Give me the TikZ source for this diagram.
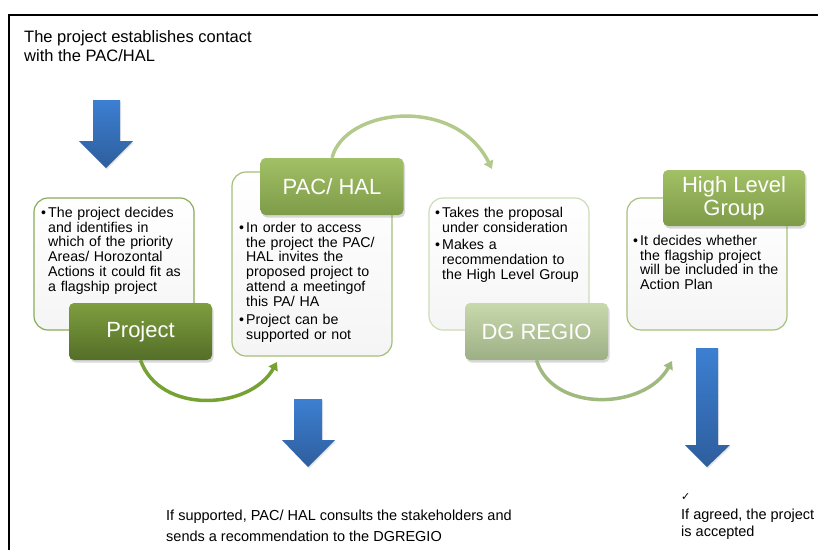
\documentclass[tikz,border=0pt]{standalone}
\usepackage{fontspec}
\setmainfont{Liberation Sans}
\newfontfamily\symfont{DejaVu Sans}
\usetikzlibrary{arrows.meta,shadows}
\definecolor{projA}{HTML}{7E9E3E}
\definecolor{projB}{HTML}{546E28}
\definecolor{pacA}{HTML}{A2C065}
\definecolor{pacB}{HTML}{7E9B48}
\definecolor{dgA}{HTML}{C8D9AC}
\definecolor{dgB}{HTML}{9DAF85}
\definecolor{hlgA}{HTML}{A2C065}
\definecolor{hlgB}{HTML}{7E9B48}
\definecolor{bdProj}{HTML}{89AC5A}
\definecolor{bdPac}{HTML}{A3C079}
\definecolor{bdDg}{HTML}{CDDCB6}
\definecolor{bdHlg}{HTML}{A6C27C}
\definecolor{arcA}{HTML}{B4CA8C}
\definecolor{arcB}{HTML}{76A234}
\definecolor{arcC}{HTML}{A0B97F}
\definecolor{blueA}{HTML}{3C7FD1}
\definecolor{blueB}{HTML}{2E5E9D}
\newcommand{\bitem}[1]{\par\noindent\hangindent=7pt\hangafter=1\hbox to 7pt{\textbullet\hfil}#1\par}
\begin{document}
\begin{tikzpicture}[x=1pt,y=-1pt,
  txtbox/.style={draw, line width=1.2pt, rounded corners=14pt, top color=white, bottom color=black!4, minimum width=160pt, minimum height=132pt, inner sep=0pt},
  lbl/.style={rounded corners=5pt, minimum width=143pt, minimum height=57pt, text=white, font=\fontsize{22}{23}\selectfont, align=center, drop shadow={opacity=0.3, shadow xshift=1.5pt, shadow yshift=-2.5pt}},
  btxt/.style={anchor=north west, inner sep=0pt, text width=160pt, font=\fontsize{14.2}{14.9}\selectfont},
  plain/.style={anchor=north west, inner sep=0pt, align=left},
  arcline/.style={line width=3.5pt, -{Triangle[length=8pt,width=10pt]}},
  bluearrow/.style={top color=blueA, bottom color=blueB, draw=none, drop shadow={opacity=0.2, shadow xshift=1pt, shadow yshift=-1.5pt}}
]
\useasboundingbox (0,0) rectangle (818,550);
% frame
\draw[line width=1.8pt] (9,550) -- (9,15) -- (818,15);
% intro text
\node[plain, font=\fontsize{16.5}{19}\selectfont] (intro) at (24,30) {The project establishes contact\\with the PAC/HAL};
% blue arrows
\shade[bluearrow] (93,100) -- (120,100) -- (120,141) -- (133,141) -- (106,168) -- (79,141) -- (93,141) -- cycle;
\shade[bluearrow] (294,399) -- (322,399) -- (322,440) -- (335,440) -- (308,467) -- (282,440) -- (294,440) -- cycle;
\shade[bluearrow] (696,348) -- (718,348) -- (718,445) -- (730,445) -- (707,467) -- (685,445) -- (696,445) -- cycle;
% text boxes
\node[txtbox, draw=bdProj] (projbox) at (114,264) {};
\node[txtbox, draw=bdPac, minimum height=184pt] (pacbox) at (312,264) {};
\node[txtbox, draw=bdDg] (dgbox) at (509,264) {};
\node[txtbox, draw=bdHlg] (hlgbox) at (707,264) {};
% box texts
\node[btxt] (projtxt) at (41,199) {\setlength{\parskip}{3pt}\bitem{The project decides\newline and identifies in\newline which of the priority\newline Areas/ Horozontal\newline Actions it could fit as\newline a flagship project}};
\node[btxt] (pactxt) at (239,214) {\setlength{\parskip}{3pt}\bitem{In order to access\newline the project the PAC/\newline HAL invites the\newline proposed project to\newline attend a meetingof\newline this PA/ HA}\bitem{Project can be\newline supported or not}};
\node[btxt] (dgtxt) at (435,199) {\setlength{\parskip}{3pt}\bitem{Takes the proposal\newline under consideration}\bitem{Makes a\newline recommendation to\newline the High Level Group}};
\node[btxt] (hlgtxt) at (633,227) {\setlength{\parskip}{3pt}\bitem{It decides whether\newline the flagship project\newline will be included in the\newline Action Plan}};
% coordinates for arc ends
\coordinate (a1end) at (492,169);
\coordinate (a2end) at (277,362);
\coordinate (a3end) at (672,361);
% labels
\node[lbl, top color=pacA, bottom color=pacB] (paclbl) at (332,186.5) {PAC/ HAL};
\draw[arcline, draw=arcA] (paclbl.north) .. controls (345,108) and (455,95) .. (a1end);
\node[lbl, top color=projA, bottom color=projB] (projlbl) at (140.5,331.5) {Project};
\node[lbl, top color=dgA, bottom color=dgB] (dglbl) at (536.5,331.5) {DG REGIO};
\node[lbl, top color=hlgA, bottom color=hlgB, minimum width=142pt, minimum height=56pt] (hlglbl) at (734,198) {High Level\\Group};
\draw[arcline, draw=arcB] (projlbl.south) .. controls (160,415) and (250,410) .. (a2end);
\draw[arcline, draw=arcC] (dglbl.south) .. controls (553,413) and (645,410) .. (a3end);
% bottom notes
\node[plain, font=\fontsize{14.5}{21}\selectfont] (note1) at (166,509.5) {If supported, PAC/ HAL consults the stakeholders and\\sends a recommendation to the DGREGIO};
\node[plain, font=\fontsize{14.5}{16.5}\selectfont] (note2) at (681,493) {{\symfont\fontsize{11}{11}\selectfont ✓}\\[3pt]If agreed, the project\\is accepted};
\end{tikzpicture}
\end{document}
